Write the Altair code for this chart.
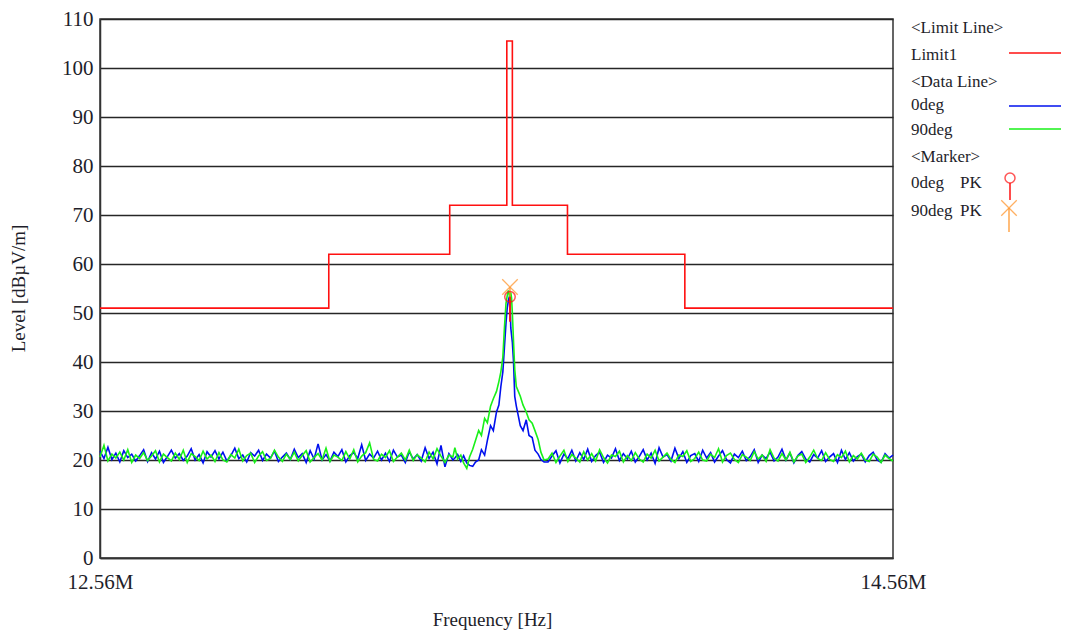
import altair as alt
import pandas as pd

FONT = "Liberation Serif"

# ---------------- limit line (step outline) ----------------
LIMIT_FREQ = [12.56, 13.137, 13.137, 13.442, 13.442, 13.586, 13.586, 13.600,
              13.600, 13.739, 13.739, 14.035, 14.035, 14.56]
LIMIT_LEVEL = [51, 51, 62, 62, 72, 72, 105.5, 105.5, 72, 72, 62, 62, 51, 51]

# ---------------- data traces ----------------
LEFT_FREQ = [round(12.56 + 0.01 * i, 2) for i in range(90)]
RIGHT_FREQ = [round(13.69 + 0.01 * i, 2) for i in range(88)]
PEAK_FREQ = [13.455, 13.462, 13.470, 13.477, 13.485, 13.492, 13.500, 13.507,
             13.515, 13.522, 13.530, 13.537, 13.545, 13.552, 13.560, 13.566,
             13.571, 13.576, 13.580, 13.584, 13.587, 13.590, 13.592, 13.594,
             13.596, 13.598, 13.600, 13.603, 13.606, 13.610, 13.615, 13.620,
             13.627, 13.635, 13.642, 13.650, 13.657, 13.665, 13.672, 13.680]

DEG0_LEFT = [21.8, 20.3, 22.6, 20.1, 21.4, 19.6, 21.9, 20.5, 21.2, 19.8,
             20.9, 22.1, 19.7, 21.5, 20.2, 21.8, 19.5, 20.7, 22.0, 20.4,
             21.3, 19.9, 20.8, 22.3, 20.0, 21.1, 19.4, 21.7, 20.6, 21.9,
             20.2, 21.6, 19.8, 20.9, 22.4, 20.3, 21.0, 19.6, 21.5, 20.8,
             22.0, 19.9, 21.2, 20.4, 21.8, 19.7, 20.6, 21.4, 20.1, 22.2,
             20.5, 21.3, 19.5, 21.9, 20.2, 23.3, 20.0, 21.1, 19.8, 21.6,
             20.7, 22.1, 19.6, 20.9, 21.5, 20.3, 23.1, 19.9, 21.2, 20.4,
             21.8, 20.0, 21.4, 19.7, 22.0, 20.6, 21.0, 19.5, 21.7, 20.2,
             21.1, 19.8, 22.5, 20.3, 21.6, 19.2, 23.0, 18.6, 21.3, 20.0]
DEG90_LEFT = [20.6, 23.0, 19.8, 21.2, 20.4, 21.6, 20.0, 22.1, 19.5, 21.0,
              20.3, 21.5, 19.9, 20.8, 21.9, 19.6, 21.2, 20.5, 19.8, 21.4,
              20.1, 22.0, 19.5, 21.3, 20.7, 19.9, 21.8, 20.2, 21.0, 19.7,
              21.5, 20.0, 19.6, 21.1, 20.4, 22.2, 19.8, 20.9, 21.4, 19.5,
              20.8, 21.7, 19.9, 20.3, 22.0, 20.6, 19.7, 21.2, 20.1, 21.6,
              19.8, 20.9, 21.9, 19.6, 20.5, 21.3, 20.0, 22.4, 19.7, 21.0,
              20.6, 19.9, 21.7, 20.2, 22.1, 19.6, 20.8, 21.5, 23.5, 20.1,
              19.8, 21.2, 20.5, 21.9, 19.7, 20.6, 21.4, 20.0, 22.0, 19.9,
              21.1, 20.4, 19.6, 21.6, 20.2, 22.3, 20.8, 19.5, 21.0, 20.6]
DEG0_PEAK = [20.4, 21.1, 19.7, 20.9, 19.4, 18.9, 18.7, 19.6, 20.0, 22.1,
             21.0, 24.0, 27.0, 26.0, 29.8, 31.2, 35.0, 38.0, 43.0, 48.0,
             51.0, 52.5, 53.2, 53.5, 47.0, 45.5, 44.0, 40.0, 33.0, 31.0,
             29.0, 27.0, 26.0, 28.2, 25.0, 24.6, 22.0, 21.2, 20.1, 19.6]
DEG90_PEAK = [22.5, 20.2, 21.0, 19.4, 18.3, 20.6, 22.2, 24.0, 26.0, 25.0,
              28.5, 27.6, 31.0, 32.5, 34.0, 36.0, 38.0, 41.0, 47.0, 52.0,
              53.5, 54.6, 54.0, 52.5, 54.2, 53.0, 50.0, 44.0, 38.5, 35.0,
              34.0, 33.0, 31.2, 29.8, 28.2, 27.5, 26.0, 24.2, 21.6, 20.0]
DEG0_RIGHT = [19.6, 20.8, 21.9, 19.4, 21.2, 20.3, 22.0, 19.8, 21.5, 20.1,
              22.2, 19.7, 20.9, 21.6, 19.5, 21.0, 20.4, 22.3, 19.9, 21.3,
              20.2, 21.8, 19.6, 20.7, 22.1, 20.0, 21.4, 19.3, 22.5, 20.6,
              21.1, 19.8, 22.4, 20.3, 21.7, 19.5, 20.9, 21.3, 19.7, 22.0,
              20.4, 21.5, 19.6, 20.8, 21.9, 20.1, 19.4, 21.2, 20.5, 21.8,
              19.9, 20.7, 22.1, 19.5, 21.0, 20.3, 21.6, 19.8, 20.6, 22.2,
              20.0, 21.4, 19.4, 20.9, 21.7, 20.2, 19.6, 21.1, 20.4, 21.9,
              19.7, 20.6, 21.3, 19.5, 22.0, 20.1, 21.5, 19.8, 20.7, 21.2,
              19.6, 20.9, 21.6, 20.0, 19.5, 21.3, 20.4, 21.0]
DEG90_RIGHT = [20.2, 21.4, 19.5, 20.8, 22.0, 19.7, 21.1, 20.4, 19.6, 21.7,
               20.0, 21.3, 19.8, 22.1, 20.5, 19.4, 21.0, 20.7, 21.8, 19.6,
               20.9, 19.9, 21.5, 20.2, 19.6, 21.2, 20.4, 22.0, 19.8, 20.6,
               21.4, 20.1, 19.5, 21.0, 20.7, 21.9, 19.7, 20.3, 21.6, 20.0,
               19.8, 21.2, 20.5, 22.3, 19.6, 20.9, 21.4, 20.1, 19.5, 21.1,
               20.6, 19.9, 21.7, 20.2, 21.0, 19.7, 22.1, 20.4, 19.8, 21.3,
               20.0, 21.6, 19.6, 20.8, 21.2, 19.5, 20.6, 22.0, 20.3, 19.9,
               21.5, 20.1, 19.7, 21.1, 20.5, 21.8, 19.6, 20.9, 20.2, 21.4,
               20.0, 19.7, 21.2, 20.6, 19.5, 21.0, 20.3, 19.8]

# ---------------- peak markers ----------------
MARKER_NAMES = ["0deg PK", "90deg PK"]
MARKER_FREQ = [13.594, 13.594]
MARKER_LEVEL = [53.3, 55.3]
MARKER_STEM_END = [48.2, 50.4]

X_TICKS = [12.56, 14.56]
Y_TICKS = list(range(0, 111, 10))

RED = "#ff1010"
BLUE = "#0010ee"
GREEN = "#19f019"
ORANGE = "#ff9020"
TXT = "#1e1e2a"

limit_df = pd.DataFrame({"freq": LIMIT_FREQ, "level": LIMIT_LEVEL,
                         "idx": list(range(len(LIMIT_FREQ)))})
deg0_df = pd.DataFrame({"freq": LEFT_FREQ + PEAK_FREQ + RIGHT_FREQ,
                        "level": DEG0_LEFT + DEG0_PEAK + DEG0_RIGHT})
deg90_df = pd.DataFrame({"freq": LEFT_FREQ + PEAK_FREQ + RIGHT_FREQ,
                         "level": DEG90_LEFT + DEG90_PEAK + DEG90_RIGHT})
marker_df = pd.DataFrame({"name": MARKER_NAMES, "freq": MARKER_FREQ,
                          "level": MARKER_LEVEL, "stem": MARKER_STEM_END})

x_scale = alt.Scale(domain=[12.56, 14.56], nice=False, zero=False)
y_scale = alt.Scale(domain=[0, 110], nice=False)

x_axis = alt.Axis(values=X_TICKS, grid=False, ticks=False, domain=True,
                  domainColor="#333333", domainWidth=1.5,
                  labelExpr="format(datum.value, '.2f') + 'M'",
                  labelFont=FONT, labelFontSize=21, labelColor=TXT,
                  labelPadding=13, labelFlush=False, labelOverlap=False,
                  title="Frequency [Hz]", titleFont=FONT, titleFontSize=19,
                  titleFontWeight="normal", titleColor=TXT,
                  titleX=392, titleY=61, titleBaseline="middle")
y_axis = alt.Axis(values=Y_TICKS, grid=True, gridColor="#262626", gridWidth=1.5,
                  ticks=False, domain=True, domainColor="#333333", domainWidth=1.5,
                  labelFont=FONT, labelFontSize=21, labelColor=TXT, labelPadding=7,
                  title="Level [dBµV/m]", titleFont=FONT, titleFontSize=19,
                  titleFontWeight="normal", titleColor=TXT,
                  titleAngle=270, titleX=-82, titleY=269,
                  titleAlign="center", titleBaseline="middle")

limit_line = alt.Chart(limit_df).mark_line(color=RED, strokeWidth=1.6).encode(
    x=alt.X("freq:Q", scale=x_scale, axis=x_axis),
    y=alt.Y("level:Q", scale=y_scale, axis=y_axis),
    order="idx:Q",
)
blue_line = alt.Chart(deg0_df).mark_line(color=BLUE, strokeWidth=1.6).encode(
    x=alt.X("freq:Q", scale=x_scale), y=alt.Y("level:Q", scale=y_scale))
green_line = alt.Chart(deg90_df).mark_line(color=GREEN, strokeWidth=1.6).encode(
    x=alt.X("freq:Q", scale=x_scale), y=alt.Y("level:Q", scale=y_scale))

m0 = marker_df[marker_df["name"] == "0deg PK"]
m90 = marker_df[marker_df["name"] == "90deg PK"]
stem0 = alt.Chart(m0).mark_rule(color=RED, strokeWidth=1.8).encode(
    x=alt.X("freq:Q", scale=x_scale), y=alt.Y("level:Q", scale=y_scale), y2="stem:Q")
stem90 = alt.Chart(m90).mark_rule(color=ORANGE, strokeWidth=1.2).encode(
    x=alt.X("freq:Q", scale=x_scale), y=alt.Y("level:Q", scale=y_scale), y2="stem:Q")
circ0 = alt.Chart(m0).mark_point(shape="circle", filled=False, color=RED,
                                 size=110, strokeWidth=1.5).encode(
    x=alt.X("freq:Q", scale=x_scale), y=alt.Y("level:Q", scale=y_scale))
x90 = alt.Chart(m90).mark_point(shape="M-1,-1L1,1M-1,1L1,-1", filled=False,
                                color=ORANGE, size=240, strokeWidth=1.3).encode(
    x=alt.X("freq:Q", scale=x_scale), y=alt.Y("level:Q", scale=y_scale))

# ---------------- legend (drawn at the right) ----------------
one = pd.DataFrame({"k": [0]})
LEG_DY = -2  # plot top is 2px lower than before


def ltext(label, x, y):
    return alt.Chart(one).mark_text(align="left", baseline="middle", font=FONT,
                                    fontSize=17, color=TXT).encode(
        x=alt.value(x), y=alt.value(y + LEG_DY), text=alt.value(label))


def lline(color, y):
    return alt.Chart(one).mark_rule(color=color, strokeWidth=1.6).encode(
        x=alt.value(909), x2=alt.value(961), y=alt.value(y + LEG_DY))


legend_layers = [
    ltext("<Limit Line>", 811, 11),
    ltext("Limit1", 811, 38),
    lline(RED, 36),
    ltext("<Data Line>", 811, 65),
    ltext("0deg", 811, 88),
    lline(BLUE, 89),
    ltext("90deg", 811, 113),
    lline(GREEN, 112),
    ltext("<Marker>", 811, 140),
    ltext("0deg", 811, 166),
    ltext("PK", 860, 166),
    ltext("90deg", 811, 194),
    ltext("PK", 860, 194),
    alt.Chart(one).mark_rule(color=RED, strokeWidth=1.5).encode(
        x=alt.value(910), y=alt.value(166 + LEG_DY), y2=alt.value(183 + LEG_DY)),
    alt.Chart(one).mark_point(shape="circle", filled=False, color=RED, size=100,
                              strokeWidth=1.5).encode(x=alt.value(910), y=alt.value(161 + LEG_DY)),
    alt.Chart(one).mark_rule(color=ORANGE, strokeWidth=1.2).encode(
        x=alt.value(909), y=alt.value(191 + LEG_DY), y2=alt.value(215 + LEG_DY)),
    alt.Chart(one).mark_point(shape="M-1,-1L1,1M-1,1L1,-1", filled=False, color=ORANGE,
                              size=240, strokeWidth=1.3).encode(
        x=alt.value(909), y=alt.value(191 + LEG_DY)),
]

chart = alt.layer(limit_line, blue_line, green_line, stem90, stem0, circ0, x90,
                  *legend_layers).properties(
    width=793, height=539,
    autosize=alt.AutoSizeParams(type="none"),
    padding={"left": 92, "top": 11, "right": 168, "bottom": 72},
    background="white",
).configure_view(stroke="#333333", strokeWidth=1.5)

chart.save("out.html", embed_options={"renderer": "svg", "actions": False})
